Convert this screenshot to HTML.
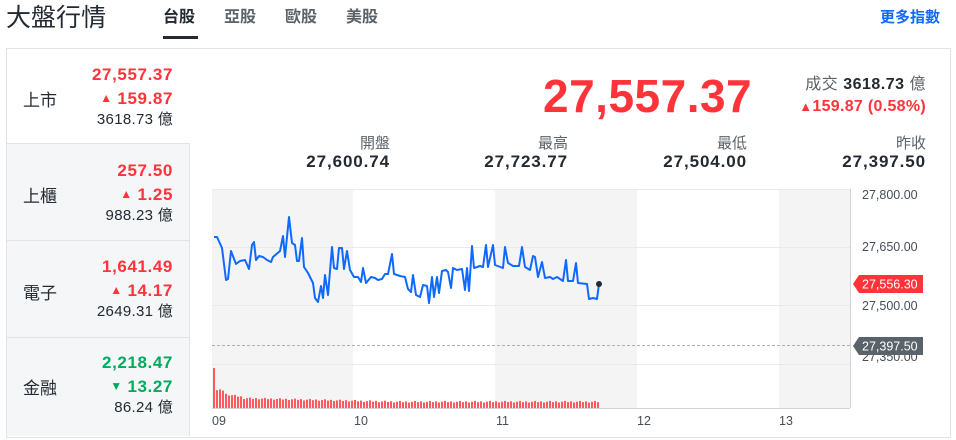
<!DOCTYPE html>
<html><head><meta charset="utf-8">
<style>
*{margin:0;padding:0;box-sizing:border-box}
body{width:956px;height:440px;background:#fff;font-family:"Liberation Sans","Noto Sans CJK TC",sans-serif;color:#232a31;position:relative;overflow:hidden}
.a{position:absolute;white-space:nowrap}
.r{text-align:right}
.red{color:#ff333a}.grn{color:#00ab5e}
.b{font-weight:bold}
.v{font-size:17px;line-height:20px;font-weight:bold;letter-spacing:0.6px}
.t{font-size:12px;vertical-align:2px;letter-spacing:0}
.s{font-size:15px;line-height:20px;letter-spacing:0.3px}
.sv{font-size:17px;font-weight:bold;letter-spacing:0.9px}
</style></head><body>
<div class="a" style="left:6px;top:2px;font-size:25px;line-height:32px">大盤行情</div>
<div class="a b" style="left:163px;top:7px;font-size:16px;line-height:22px">台股</div>
<div class="a" style="left:163px;top:36px;width:35px;height:3px;background:#232a31"></div>
<div class="a b" style="left:224px;top:7px;font-size:16px;line-height:22px;color:#5b636a">亞股</div>
<div class="a b" style="left:285px;top:7px;font-size:16px;line-height:22px;color:#5b636a">歐股</div>
<div class="a b" style="left:346px;top:7px;font-size:16px;line-height:22px;color:#5b636a">美股</div>
<div class="a b" style="left:880px;top:7px;font-size:15px;line-height:22px;color:#0f69ff">更多指數</div>

<div class="a" style="left:6px;top:48px;width:945px;height:390px;border:1px solid #e0e4e9"></div>
<div class="a" style="left:7px;top:144px;width:183px;height:292px;background:#f5f6f8;border-right:1px solid #e0e4e9"></div>
<div class="a" style="left:7px;top:143px;width:183px;height:1px;background:#e0e4e9"></div>
<div class="a" style="left:7px;top:240px;width:183px;height:1px;background:#e0e4e9"></div>
<div class="a" style="left:7px;top:337px;width:183px;height:1px;background:#e0e4e9"></div>

<div class="a" style="left:23px;top:86px;font-size:17px">上市</div>
<div class="a r v red" style="right:783px;top:65px">27,557.37</div>
<div class="a r v red" style="right:783px;top:88px"><span class="t">▲</span> 159.87</div>
<div class="a r s" style="right:783px;top:110px">3618.73 億</div>

<div class="a" style="left:23px;top:182px;font-size:17px">上櫃</div>
<div class="a r v red" style="right:783px;top:161px">257.50</div>
<div class="a r v red" style="right:783px;top:184px"><span class="t">▲</span> 1.25</div>
<div class="a r s" style="right:783px;top:206px">988.23 億</div>

<div class="a" style="left:23px;top:279px;font-size:17px">電子</div>
<div class="a r v red" style="right:783px;top:257px">1,641.49</div>
<div class="a r v red" style="right:783px;top:280px"><span class="t">▲</span> 14.17</div>
<div class="a r s" style="right:783px;top:302px">2649.31 億</div>

<div class="a" style="left:23px;top:374px;font-size:17px">金融</div>
<div class="a r v grn" style="right:783px;top:353px">2,218.47</div>
<div class="a r v grn" style="right:783px;top:376px"><span class="t">▼</span> 13.27</div>
<div class="a r s" style="right:783px;top:398px">86.24 億</div>

<div class="a b red" style="left:543px;top:70px;font-size:46px;line-height:52px;letter-spacing:0.5px">27,557.37</div>
<div class="a r" style="right:30px;top:75px;font-size:16px;line-height:20px;color:#5b636a;letter-spacing:0.5px">成交 <b style="color:#232a31">3618.73</b> 億</div>
<div class="a r b red" style="right:30px;top:97px;font-size:16px;line-height:20px;letter-spacing:0.3px"><span style="font-size:13px">▲</span>159.87 (0.58%)</div>

<div class="a r" style="right:566px;top:132px;font-size:15px;color:#5b636a">開盤</div>
<div class="a r sv" style="right:566px;top:152px">27,600.74</div>
<div class="a r" style="right:388px;top:132px;font-size:15px;color:#5b636a">最高</div>
<div class="a r sv" style="right:388px;top:152px">27,723.77</div>
<div class="a r" style="right:209px;top:132px;font-size:15px;color:#5b636a">最低</div>
<div class="a r sv" style="right:209px;top:152px">27,504.00</div>
<div class="a r" style="right:30px;top:132px;font-size:15px;color:#5b636a">昨收</div>
<div class="a r sv" style="right:30px;top:152px">27,397.50</div>

<svg class="a" style="left:0;top:0" width="956" height="440" font-family="Liberation Sans, sans-serif">
<rect x="212" y="189" width="141" height="219" fill="#f4f4f5"/>
<rect x="495" y="189" width="142" height="219" fill="#f4f4f5"/>
<rect x="779" y="189" width="71" height="219" fill="#f4f4f5"/>
<g stroke="#e9eaec" stroke-width="1">
<line x1="212" y1="189.5" x2="850" y2="189.5"/>
<line x1="212" y1="247.5" x2="850" y2="247.5"/>
<line x1="212" y1="305.5" x2="850" y2="305.5"/>
<line x1="212" y1="364.5" x2="850" y2="364.5"/>
</g>
<line x1="212" y1="345.5" x2="850" y2="345.5" stroke="#b0b0b0" stroke-dasharray="3,2"/>
<line x1="212" y1="408.5" x2="850" y2="408.5" stroke="#d0d3da"/>
<line x1="850.5" y1="189" x2="850.5" y2="408" stroke="#d0d3da"/>
<g id="vol" fill="#ff5a60"></g>
<polyline fill="none" stroke="#0f69ff" stroke-width="2" stroke-linejoin="round" points="214,237 217,237 222,248 226,280 228,279 231,251 236,264 240,261 245,260 249,269 252,245 254,242 256,260 259,256 263,257 267,260 271,262 273,257 280,251 283,236 285,257 289,217 292,243 295,245 297,261 299,261 302,238 304,267 308,273 313,283 315,298 318,302 321,286 323,298 325,275 328,295 332,247 334,268 337,269 339,248 342,248 344,269 347,251 350,270 354,277 358,277 361,282 363,268 366,283 371,277 375,278 378,280 382,279 385,274 388,274 392,254 394,274 400,276 405,277 408,289 411,292 413,275 416,295 420,297 423,285 427,286 429,303 432,277 434,297 437,277 439,293 442,271 446,270 448,272 451,288 453,268 457,270 462,269 465,290 467,268 469,291 472,246 474,268 480,266 483,267 486,245 488,267 493,245 495,265 503,268 505,247 508,263 513,266 519,266 522,247 525,267 530,270 533,256 535,257 538,277 542,262 545,278 550,277 553,279 557,277 563,281 566,260 568,281 573,281 576,263 578,283 587,284 589,299 593,298 597,299 599,284"/>
<circle cx="599" cy="284" r="3" fill="#232a31"/>
<g font-size="12.5" fill="#464e56">
<text x="862" y="199">27,800.00</text>
<text x="862" y="251">27,650.00</text>
<text x="862" y="310">27,500.00</text>
<text x="862" y="361">27,350.00</text>
<text x="212" y="425">09</text>
<text x="354" y="425">10</text>
<text x="496" y="425">11</text>
<text x="637" y="425">12</text>
<text x="779" y="425">13</text>
</g>
<path d="M853,284 L859,275 L923,275 L923,293 L859,293 Z" fill="#ff333a"/>
<text x="862" y="288.5" font-size="12.5" fill="#fff">27,556.30</text>
<path d="M853,346 L859,337 L923,337 L923,355 L859,355 Z" fill="#5b636a"/>
<text x="862" y="350.5" font-size="12.5" fill="#fff">27,397.50</text>
</svg>
<script>
var g=document.getElementById('vol'),s='';
for(var i=0;i<129;i++){var x=213+i*3;var h;
if(i==0)h=40;else if(i<4)h=17;else if(i<10)h=15-i*0.5;else if(i<60)h=9-(i-10)*0.07;else h=5.5;
h+= (i*7%5)*0.4;
s+='<rect x="'+x+'" y="'+(408-h)+'" width="2" height="'+h+'"/>';}
g.innerHTML=s;
</script>
</body></html>
